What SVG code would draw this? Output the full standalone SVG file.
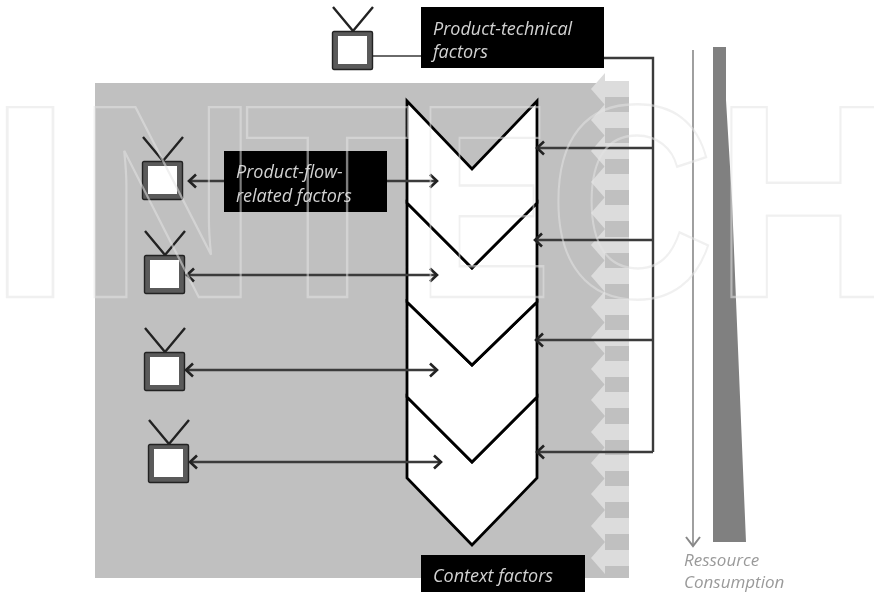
<svg xmlns="http://www.w3.org/2000/svg" xmlns:xlink="http://www.w3.org/1999/xlink" width="874" height="592" viewBox="0 0 874 592">
<style>
.box{fill:#000}
.lbl{font-family:"Open Sans","Liberation Sans",sans-serif;font-style:italic;font-size:18px;fill:#d2d2d2}
.res{font-family:"Open Sans","Liberation Sans",sans-serif;font-style:italic;font-size:17px;fill:#9a9a9a}
.link{fill:none;stroke:#3a3a3a;stroke-width:2.4}
.thin{fill:none;stroke:#6a6a6a;stroke-width:1.8}
.chev{fill:#fff;stroke:#000;stroke-width:2.8;stroke-linejoin:miter}
.stripe{fill:#dcdcdc}
.wm{font-family:"Liberation Sans",sans-serif;font-weight:bold;font-size:276px;fill:none;stroke:#e4e4e4;stroke-width:2.4;opacity:.55}
</style>
<defs>
<filter id="soft" x="0" y="0" width="100%" height="100%"><feGaussianBlur stdDeviation="0.55"/></filter>
<marker id="open" viewBox="0 0 12 16" refX="10" refY="8" markerWidth="12" markerHeight="16" markerUnits="userSpaceOnUse" orient="auto-start-reverse">
<path d="M3 1.5 L10 8 L3 14.5" fill="none" stroke="#222" stroke-width="2.6"/>
</marker>
<marker id="down" viewBox="0 0 16 14" refX="8" refY="12" markerWidth="16" markerHeight="14" markerUnits="userSpaceOnUse" orient="0">
<path d="M1 3 L8 12 L15 3" fill="none" stroke="#888" stroke-width="2"/>
</marker>
<polygon id="arr" points="591,0 605,-16 605,-8 629,-8 629,8 605,8 605,16"/>
<g id="tv">
<path d="M21 0 L1 -24 M21 0 L41 -24" fill="none" stroke="#222" stroke-width="2.4"/>
<rect x="0.5" y="0.5" width="40" height="38" rx="1.5" fill="#5a5a5a" stroke="#222" stroke-width="1.4"/>
<rect x="6" y="5" width="29" height="28" fill="#fff"/>
</g>
</defs>
<g filter="url(#soft)">
<rect width="874" height="592" fill="#fff"/>
<rect id="panel" x="95" y="83" width="534" height="495" fill="#c0c0c0"/>
<g id="stripes" class="stripe">
<use href="#arr" y="89"/><use href="#arr" y="120"/><use href="#arr" y="151"/><use href="#arr" y="182"/>
<use href="#arr" y="213"/><use href="#arr" y="245"/><use href="#arr" y="276"/><use href="#arr" y="307"/>
<use href="#arr" y="338"/><use href="#arr" y="369"/><use href="#arr" y="400"/><use href="#arr" y="432"/>
<use href="#arr" y="463"/><use href="#arr" y="494"/><use href="#arr" y="526"/><use href="#arr" y="558"/>
</g>
<g id="process">
<polygon class="chev" points="407,397 472,462 537,397 537,478 472,545 407,478"/>
<polygon class="chev" points="407,302 472,365 537,302 537,397 472,462 407,397"/>
<polygon class="chev" points="407,203 472,268 537,203 537,302 472,365 407,302"/>
<polygon class="chev" points="407,101 472,169 537,101 537,203 472,268 407,203"/>
</g>
<g id="connectors">
<path class="thin" d="M373 56 H421"/>
<path class="link" d="M604 58 H653 V452"/>
<path class="link" d="M653 148 H537" marker-end="url(#open)"/>
<path class="link" d="M653 240 H535" marker-end="url(#open)"/>
<path class="link" d="M653 340 H536" marker-end="url(#open)"/>
<path class="link" d="M653 452 H537" marker-end="url(#open)"/>
<path class="link" d="M224 181 H189" marker-end="url(#open)"/>
<path class="link" d="M387 181 H437" marker-end="url(#open)"/>
<path class="link" d="M187 275 H437" marker-start="url(#open)" marker-end="url(#open)"/>
<path class="link" d="M186 370 H437" marker-start="url(#open)" marker-end="url(#open)"/>
<path class="link" d="M190 462 H441" marker-start="url(#open)" marker-end="url(#open)"/>
</g>
<g id="tv-top"><use href="#tv" x="332" y="31"/></g>
<g id="tv-1"><use href="#tv" x="142" y="161"/></g>
<g id="tv-2"><use href="#tv" x="144" y="255"/></g>
<g id="tv-3"><use href="#tv" x="144" y="352"/></g>
<g id="tv-4"><use href="#tv" x="148" y="444"/></g>
<g id="product-technical">
<rect class="box" x="421" y="7" width="183" height="61"/>
<text class="lbl" x="433" y="35">Product-technical</text>
<text class="lbl" x="433" y="58">factors</text>
</g>
<g id="product-flow">
<rect class="box" x="224" y="151" width="163" height="61"/>
<text class="lbl" x="236" y="178">Product-flow-</text>
<text class="lbl" x="236" y="202">related factors</text>
</g>
<g id="context">
<rect class="box" x="421" y="555" width="164" height="37"/>
<text class="lbl" x="433" y="582">Context factors</text>
</g>
<g id="resource">
<path d="M693 50 V546" fill="none" stroke="#888" stroke-width="1.6" marker-end="url(#down)"/>
<polygon points="713,47 726,47 726,100 732,200 736,300 746,542 713,542" fill="#808080"/>
<text class="res" x="684" y="566">Ressource</text>
<text class="res" x="684" y="588">Consumption</text>
</g>
<g id="watermark" class="wm">
<text transform="translate(-14,297) scale(1.15,1)">I</text>
<text transform="translate(78,297) scale(.9,1)">N</text>
<text transform="translate(244,297) scale(.99,1)">T</text>
<text transform="translate(417,297) scale(.73,1)">E</text>
<text transform="translate(549,297) scale(.83,1)">C</text>
<text transform="translate(715,297) scale(.89,1)">H</text>
</g>
</g>
</svg>
